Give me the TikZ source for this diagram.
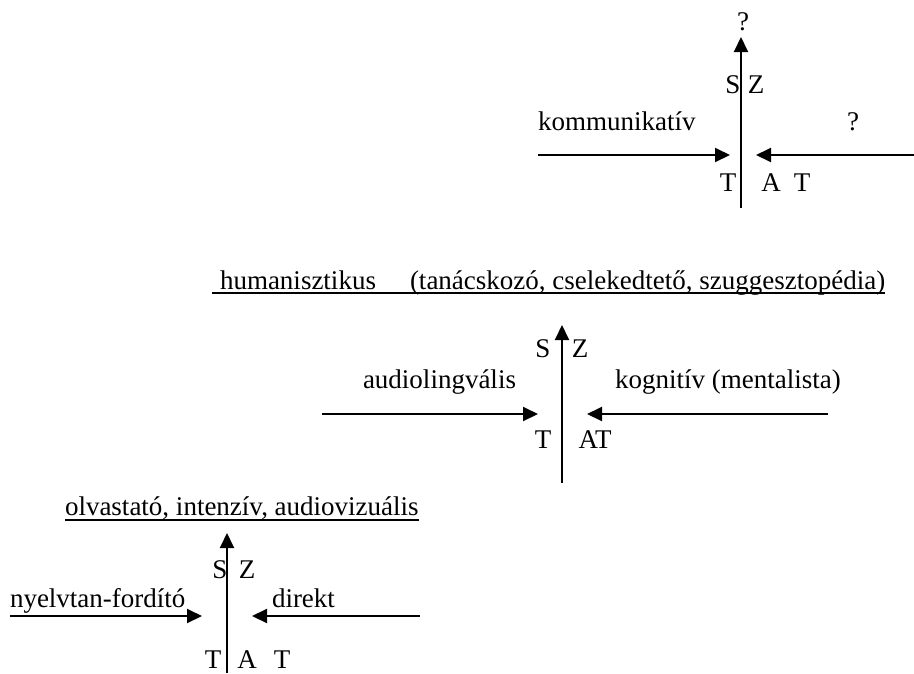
\documentclass[tikz,border=0pt]{standalone}
\usepackage{fontspec}
\setmainfont{Liberation Serif}
\usetikzlibrary{arrows.meta}
\begin{document}
\begin{tikzpicture}[x=1pt,y=-1pt,
  txt/.style={inner sep=0pt,outer sep=0pt,font=\fontsize{27pt}{32pt}\selectfont},
  lab/.style={txt,anchor=base},
  labw/.style={txt,anchor=base west},
  arr/.style={line width=2pt,-{Triangle[length=15pt,width=14pt]}},
  uline/.style={line width=1.5pt}]
\useasboundingbox (0,0) rectangle (914,673);
% ---------- top structure ----------
\coordinate (v1b) at (741,208);
\coordinate (v1t) at (741,37);
\draw[arr] (v1b) -- (v1t);
\node[lab] (q1) at (743,30) {?};
\node[lab] (s1) at (733,93) {S};
\node[lab] (z1) at (756,93) {Z};
\node[labw] (komm) at (538,130) {kommunikatív};
\node[lab] (q2) at (853,130) {?};
\coordinate (l1s) at (538,155);
\coordinate (l1e) at (730,155);
\coordinate (r1s) at (914,155);
\coordinate (r1e) at (756,155);
\draw[arr] (l1s) -- (l1e);
\draw[arr] (r1s) -- (r1e);
\node[lab] (t1a) at (728,191) {T};
\node[lab] (a1) at (771,191) {A};
\node[lab] (t1b) at (802,191) {T};
% ---------- middle structure ----------
\node[labw] (hum) at (220,289) {humanisztikus};
\node[labw] (tan) at (410,289) {(tanácskozó, cselekedtető, szuggesztopédia)};
\coordinate (u2a) at (212,293);
\coordinate (u2b) at (tan.base east |- u2a);
\draw[uline] (u2a) -- (u2b);
\coordinate (v2b) at (562,483);
\coordinate (v2t) at (562,325);
\draw[arr] (v2b) -- (v2t);
\node[lab] (s2) at (543,357) {S};
\node[lab] (z2) at (580,357) {Z};
\node[labw] (audio) at (363,388) {audiolingvális};
\node[labw] (kogn) at (615,388) {kognitív (mentalista)};
\coordinate (l2s) at (322,414);
\coordinate (l2e) at (538,414);
\coordinate (r2s) at (828,414);
\coordinate (r2e) at (587,414);
\draw[arr] (l2s) -- (l2e);
\draw[arr] (r2s) -- (r2e);
\node[lab] (t2) at (543,448) {T};
\node[lab] (at2) at (595,448) {AT};
% ---------- bottom structure ----------
\node[labw] (olv) at (65,515) {olvastató, intenzív, audiovizuális};
\coordinate (u3a) at (65,520);
\coordinate (u3b) at (olv.base east |- u3a);
\draw[uline] (u3a) -- (u3b);
\coordinate (v3b) at (227,673);
\coordinate (v3t) at (227,533);
\draw[arr] (v3b) -- (v3t);
\node[lab] (s3) at (220,578) {S};
\node[lab] (z3) at (247,578) {Z};
\node[labw] (nyelv) at (10,607) {nyelvtan-fordító};
\node[labw] (dir) at (272,607) {direkt};
\coordinate (l3s) at (10,616);
\coordinate (l3e) at (202,616);
\coordinate (r3s) at (420,616);
\coordinate (r3e) at (252,616);
\draw[arr] (l3s) -- (l3e);
\draw[arr] (r3s) -- (r3e);
\node[lab] (t3a) at (213,668) {T};
\node[lab] (a3) at (247,668) {A};
\node[lab] (t3b) at (282,668) {T};
\end{tikzpicture}
\end{document}
